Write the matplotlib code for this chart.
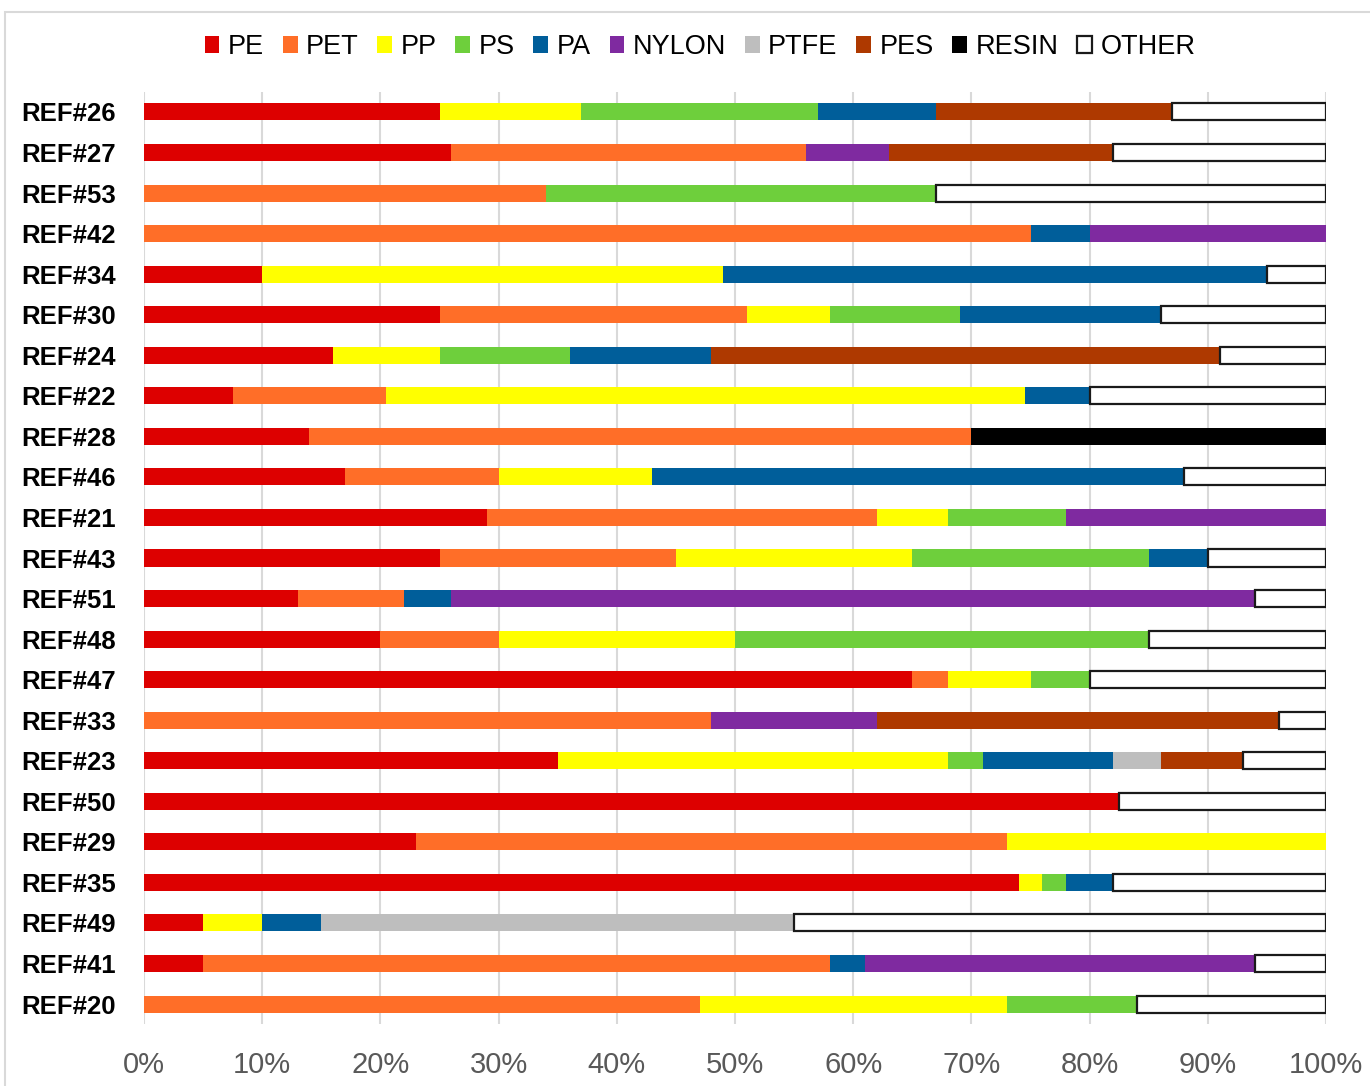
import numpy as np
import matplotlib
matplotlib.use("Agg")
import matplotlib.pyplot as plt
from matplotlib.patches import Rectangle

plt.rcParams["font.family"] = ["Liberation Sans", "DejaVu Sans"]

refs = ["REF#26", "REF#27", "REF#53", "REF#42", "REF#34", "REF#30", "REF#24",
        "REF#22", "REF#28", "REF#46", "REF#21", "REF#43", "REF#51", "REF#48",
        "REF#47", "REF#33", "REF#23", "REF#50", "REF#29", "REF#35", "REF#49",
        "REF#41", "REF#20"]

# share of each polymer type per reference (%)
pe    = [25, 26, 0, 0, 10, 25, 16, 7.5, 14, 17, 29, 25, 13, 20, 65, 0, 35, 82.5, 23, 74, 5, 5, 0]
pet   = [0, 30, 34, 75, 0, 26, 0, 13, 56, 13, 33, 20, 9, 10, 3, 48, 0, 0, 50, 0, 0, 53, 47]
pp    = [12, 0, 0, 0, 39, 7, 9, 54, 0, 13, 6, 20, 0, 20, 7, 0, 33, 0, 27, 2, 5, 0, 26]
ps    = [20, 0, 33, 0, 0, 11, 11, 0, 0, 0, 10, 20, 0, 35, 5, 0, 3, 0, 0, 2, 0, 0, 11]
pa    = [10, 0, 0, 5, 46, 17, 12, 5.5, 0, 45, 0, 5, 4, 0, 0, 0, 11, 0, 0, 4, 5, 3, 0]
nylon = [0, 7, 0, 20, 0, 0, 0, 0, 0, 0, 22, 0, 68, 0, 0, 14, 0, 0, 0, 0, 0, 33, 0]
ptfe  = [0, 0, 0, 0, 0, 0, 0, 0, 0, 0, 0, 0, 0, 0, 0, 0, 4, 0, 0, 0, 40, 0, 0]
pes   = [20, 19, 0, 0, 0, 0, 43, 0, 0, 0, 0, 0, 0, 0, 0, 34, 7, 0, 0, 0, 0, 0, 0]
resin = [0, 0, 0, 0, 0, 0, 0, 0, 30, 0, 0, 0, 0, 0, 0, 0, 0, 0, 0, 0, 0, 0, 0]
other = [13, 18, 33, 0, 5, 14, 9, 20, 0, 12, 0, 10, 6, 15, 20, 4, 7, 17.5, 0, 18, 45, 6, 16]

series = [
    ("PE", pe, "#dd0000"),
    ("PET", pet, "#ff6e28"),
    ("PP", pp, "#ffff00"),
    ("PS", ps, "#6ecf3c"),
    ("PA", pa, "#005e9a"),
    ("NYLON", nylon, "#7f2aa0"),
    ("PTFE", ptfe, "#bebebe"),
    ("PES", pes, "#ae3900"),
    ("RESIN", resin, "#000000"),
    ("OTHER", other, "#ffffff"),
]

fig = plt.figure(figsize=(13.7, 10.86), dpi=100)
fig.patches.append(Rectangle((5 / 1370, -0.05), 1.1, 1.05 - 12 / 1086,
                             transform=fig.transFigure, fill=False,
                             edgecolor="#d9d9d9", linewidth=1.5))

ax = fig.add_axes([144 / 1370, 1 - 1024.3 / 1086, (1326 - 144) / 1370, (1024.3 - 91.7) / 1086])

y = np.arange(len(refs))
left = np.zeros(len(refs))
for name, vals, color in series:
    vals = np.array(vals, dtype=float)
    if name == "OTHER":
        lw = np.where(vals > 0, 1.6, 0)
        ax.barh(y, vals, left=left, height=0.42, color=color,
                edgecolor="#1a1a1a", linewidth=lw, label=name, zorder=3)
    else:
        ax.barh(y, vals, left=left, height=0.42, color=color,
                linewidth=0, label=name, zorder=3)
    left += vals

ax.set_xlim(0, 100)
ax.set_ylim(-0.5, len(refs) - 0.5)
ax.invert_yaxis()
ax.set_yticks(y)
ax.set_yticklabels(refs, fontsize=18.5, fontweight="bold")
ax.set_xticks(np.arange(0, 101, 10))
ax.set_xticklabels([f"{v}%" for v in range(0, 101, 10)], fontsize=21, color="#595959")
ax.tick_params(axis="x", length=0, pad=19)
ax.tick_params(axis="y", length=0, pad=20)
ax.grid(axis="x", color="#d9d9d9", linewidth=1.5, zorder=0)
for s in ax.spines.values():
    s.set_visible(False)

fig.legend(loc="center", bbox_to_anchor=(700 / 1370, 1 - 47 / 1086), ncol=10,
           frameon=False, fontsize=19.5, handlelength=0.55, handleheight=0.55,
           handletextpad=0.3, columnspacing=0.7)

fig.savefig("out.png", dpi=100)
